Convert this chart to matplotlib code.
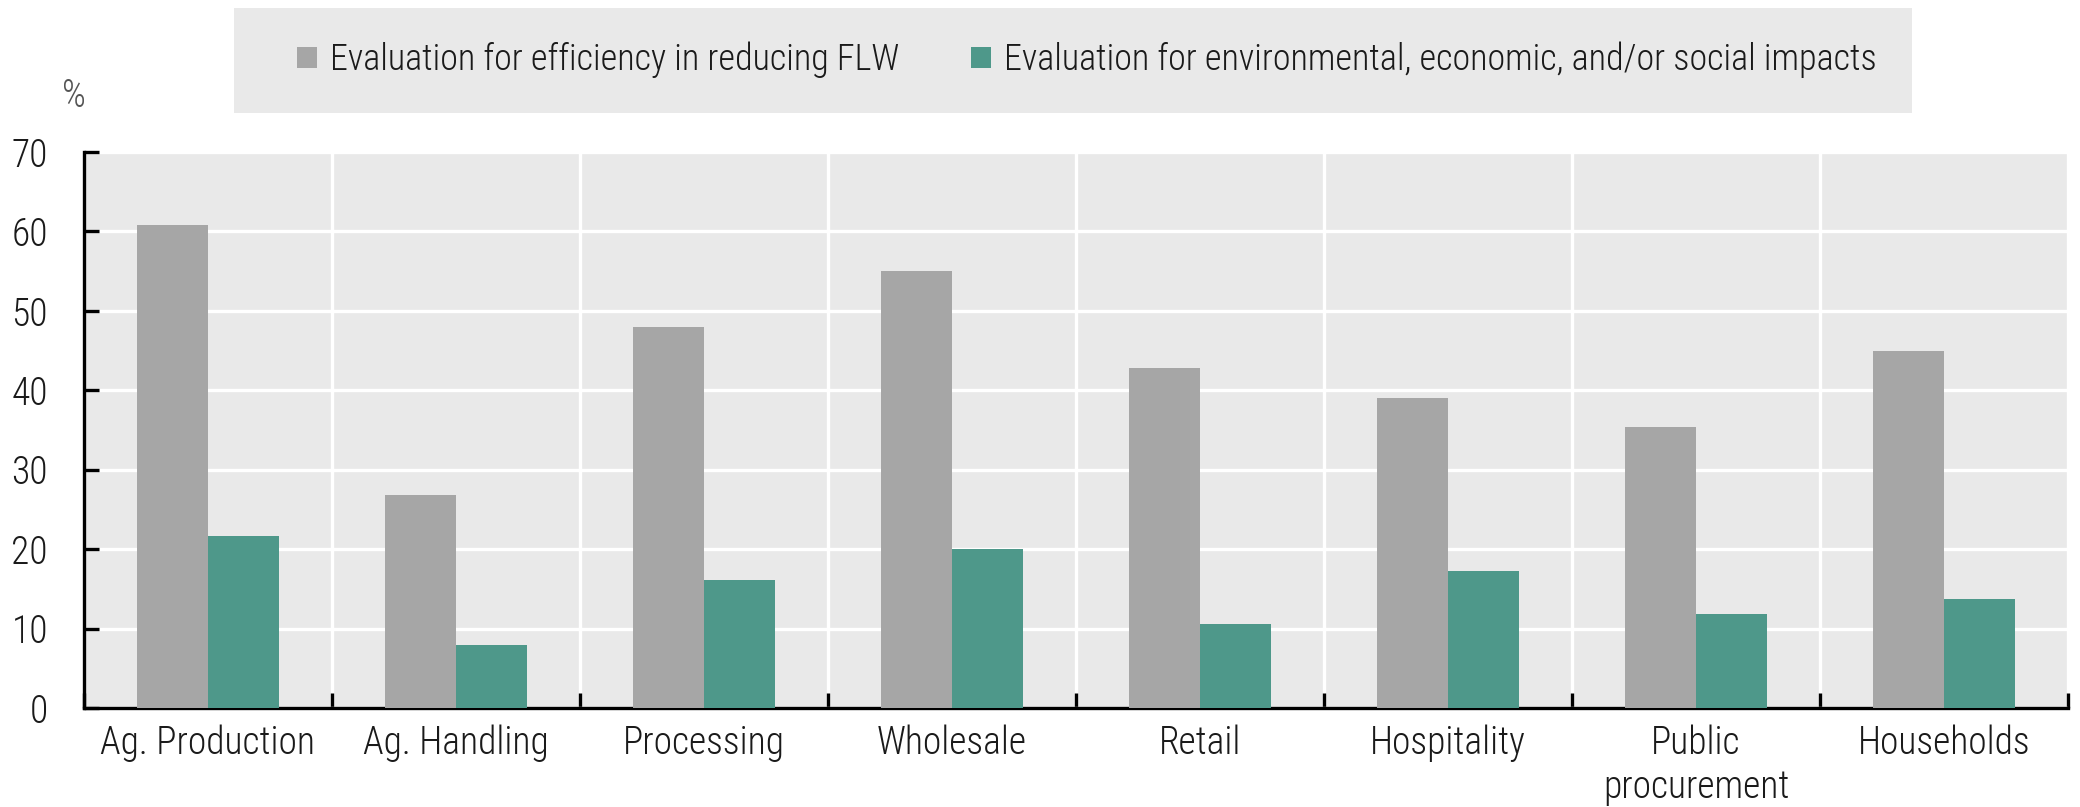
import numpy as np
import matplotlib
matplotlib.use("Agg")
import matplotlib.pyplot as plt
from matplotlib.patches import Rectangle

categories = ["Ag. Production", "Ag. Handling", "Processing", "Wholesale",
              "Retail", "Hospitality", "Public\nprocurement", "Households"]
efficiency = [60.8, 26.8, 48.0, 55.0, 42.8, 39.0, 35.4, 44.9]
impacts = [21.7, 7.9, 16.1, 20.0, 10.6, 17.3, 11.8, 13.7]
series_names = ["Evaluation for efficiency in reducing FLW",
                "Evaluation for environmental, economic, and/or social impacts"]
y_ticks = [0, 10, 20, 30, 40, 50, 60, 70]

GREY = "#a6a6a6"
TEAL = "#4e988a"
PANEL = "#e9e9e9"
TEXT = "#1a1a1a"

plt.rcParams['font.family'] = ['Roboto Condensed', 'DejaVu Sans']
plt.rcParams['font.weight'] = 300
plt.rcParams['font.size'] = 27

fig = plt.figure(figsize=(20.8, 8.07), dpi=100)
ax = fig.add_axes([84 / 2080, 1 - 708 / 807, (2068 - 84) / 2080, (708 - 152) / 807])

x = np.arange(len(categories))
w = 0.285
ax.bar(x - w / 2, efficiency, w, color=GREY, label=series_names[0], zorder=3)
ax.bar(x + w / 2, impacts, w, color=TEAL, label=series_names[1], zorder=3)

ax.set_facecolor(PANEL)
ax.set_xlim(-0.5, len(categories) - 0.5)
ax.set_ylim(0, 70)
ax.set_yticks(y_ticks)
ax.set_xticks(x)
ax.set_xticklabels(categories, color=TEXT, linespacing=1.2)
ax.set_xticks(np.arange(len(categories) + 1) - 0.5, minor=True)

ax.grid(axis='y', which='major', color='white', linewidth=2.4, zorder=0)
ax.grid(axis='x', which='minor', color='white', linewidth=2.4, zorder=0)
ax.set_axisbelow(True)

for s in ['top', 'right']:
    ax.spines[s].set_visible(False)
for s in ['left', 'bottom']:
    ax.spines[s].set_linewidth(2.4)
    ax.spines[s].set_color('black')

ax.tick_params(axis='y', direction='in', length=11, width=2.4, colors='black',
               labelcolor=TEXT, pad=26)
ax.tick_params(axis='x', which='major', length=0, pad=12, labelcolor=TEXT)
ax.tick_params(axis='x', which='minor', direction='in', length=11, width=2.4,
               colors='black')

fig.text(74 / 2080, 1 - 96 / 807, "%", ha='center', va='center',
         color='#555555', fontsize=27)

# legend box
fig.patches.append(Rectangle((234 / 2080, 1 - 113 / 807), (1912 - 234) / 2080,
                             105 / 807, transform=fig.transFigure,
                             facecolor=PANEL, edgecolor='none', zorder=0))
fig.legend(loc='center', bbox_to_anchor=(1087 / 2080, 1 - 60 / 807), ncol=2,
           frameon=False, handlelength=0.55, handleheight=0.55,
           handletextpad=0.35, columnspacing=2.0, fontsize=26,
           labelcolor=TEXT)

fig.savefig("out.png", dpi=100)
